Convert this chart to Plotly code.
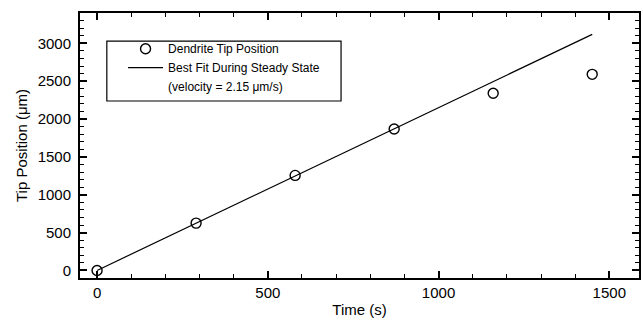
import plotly.graph_objects as go

# Data
time_s = [0, 290, 580, 870, 1160, 1450]
tip_um = [0, 625, 1255, 1868, 2340, 2590]
fit_time = [0, 1450]
fit_tip = [0, 3118]

legend_names = ["Dendrite Tip Position", "Best Fit During Steady State", "(velocity = 2.15 \u03bcm/s)"]

FONT = "Arial, Liberation Sans, Helvetica, sans-serif"

fig = go.Figure()
fig.add_trace(go.Scatter(
    x=time_s, y=tip_um, mode="markers", name=legend_names[0],
    marker=dict(symbol="circle-open", size=10, color="black", line=dict(width=1.4, color="black")),
))
fig.add_trace(go.Scatter(
    x=fit_time, y=fit_tip, mode="lines", name=legend_names[1],
    line=dict(color="black", width=1.2),
))
fig.add_trace(go.Scatter(
    x=[None], y=[None], mode="lines", name=legend_names[2],
    line=dict(color="rgba(0,0,0,0)", width=0),
))

axis_common = dict(
    showline=True, linecolor="black", linewidth=2, mirror="ticks",
    ticks="inside", ticklen=7, tickwidth=1.5, tickcolor="black",
    showgrid=False, zeroline=False,
    tickfont=dict(family=FONT, size=15, color="black"),
    minor=dict(ticks="inside", ticklen=4, tickwidth=1.2, tickcolor="black", showgrid=False),
)

fig.update_xaxes(
    range=[-50, 1587], tickmode="array", tickvals=[0, 500, 1000, 1500],
    minor_dtick=100, minor_tick0=0,
    title=dict(text="Time (s)", font=dict(family=FONT, size=15, color="black"), standoff=4),
    **axis_common,
)
fig.update_yaxes(
    range=[-100, 3400], tickmode="array", tickvals=[0, 500, 1000, 1500, 2000, 2500, 3000],
    minor_dtick=100, minor_tick0=0,
    title=dict(text="Tip Position (\u03bcm)", font=dict(family=FONT, size=15, color="black"), standoff=6),
    ticklabelstandoff=4,
    **axis_common,
)

fig.add_shape(type="rect", xref="paper", yref="paper",
              x0=0.048, x1=0.467, y0=0.668, y1=0.894,
              line=dict(color="black", width=1.2), fillcolor="rgba(0,0,0,0)")

fig.update_layout(
    width=643, height=322,
    margin=dict(l=80, r=2, t=13, b=44),
    plot_bgcolor="white", paper_bgcolor="white",
    showlegend=True,
    legend=dict(x=0.077, y=0.92, xanchor="left", yanchor="top",
                bgcolor="rgba(0,0,0,0)", borderwidth=0,
                font=dict(family=FONT, size=12, color="black"),
                itemwidth=35, tracegroupgap=0),
)

fig.write_html("out.html")
